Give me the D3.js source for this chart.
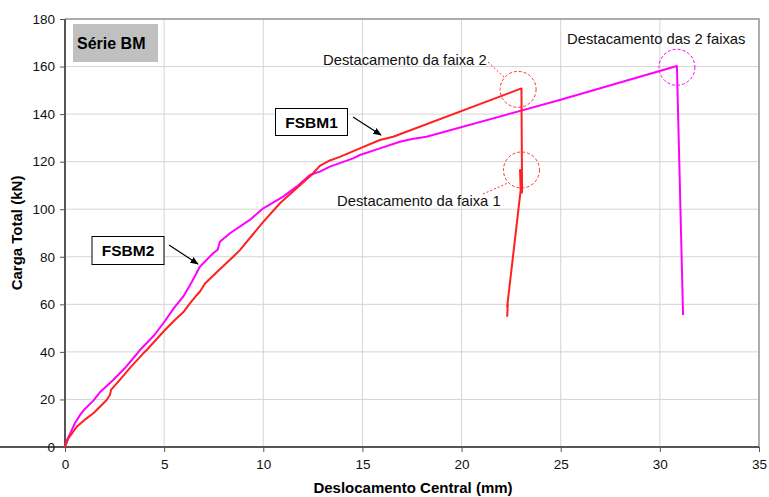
<!DOCTYPE html>
<html><head><meta charset="utf-8">
<script src="https://cdn.jsdelivr.net/npm/d3@7"></script>
<style>body{margin:0;background:#fff}svg{display:block}text{font-family:"Liberation Sans",Arial,sans-serif}</style>
</head><body>
<script>
const xTicks=[0,5,10,15,20,25,30,35];
const yTicks=[0,20,40,60,80,100,120,140,160,180];
const xTitle="Deslocamento Central (mm)";
const yTitle="Carga Total (kN)";
const seriesNames=["FSBM1","FSBM2"];
const fsbm1X=[0,0.17,0.59,1.0,1.43,2.1,2.27,2.32,2.69,3.3,3.95,4.12,5.04,5.54,6.0,6.3,6.6,6.8,7.06,7.65,8.48,8.82,10.0,10.84,11.68,12.43,12.85,13.36,13.86,14.87,15.88,16.55,23.02,23.05,22.95,22.98,22.3,22.33,22.3];
const fsbm1Y=[0,3.6,8.5,11.5,14.2,19.8,22.0,24.0,27.5,33.5,39.4,40.8,49.2,53.4,57,60.4,63.5,65.3,68.8,73.5,80,82.8,94.7,102.5,108.8,114.4,118.2,120.5,122,125.6,129.1,130.5,150.8,107,116.5,108,59,60,54.8];
const fsbm2X=[0,0.1,0.25,0.5,0.76,1.0,1.43,1.76,2.43,3.0,3.61,3.78,4.5,5.04,5.5,5.96,6.4,6.8,7.47,7.7,7.81,8.32,9.32,10.0,11.0,11.68,12.35,12.85,13.36,14.53,14.87,15.88,16.89,17.5,18.23,24.95,30.86,31.17];
const fsbm2Y=[0,3,5.5,10,13.5,16,19.5,23,28.2,33,39,40.8,47,53,58.5,63.2,69.5,75.8,81.5,83,86.3,89.9,95.5,100.4,105.3,109.5,114.4,115.8,117.9,121.4,122.8,125.6,128.4,129.5,130.5,145.9,160.2,55.5];

const W=769,H=497;
const svg=d3.select("body").append("svg").attr("width",W).attr("height",H);
const x=d3.scaleLinear().domain([0,35]).range([65,759]);
const y=d3.scaleLinear().domain([0,180]).range([447,19]);

svg.append("g").selectAll("line").data(yTicks.slice(1)).join("line")
 .attr("x1",x(0)).attr("x2",x(35)).attr("y1",d=>y(d)).attr("y2",d=>y(d))
 .attr("stroke","#d4d4d4").attr("stroke-width",1);
svg.append("g").selectAll("line").data(xTicks.slice(1)).join("line")
 .attr("y1",y(0)).attr("y2",y(180)).attr("x1",d=>x(d)).attr("x2",d=>x(d))
 .attr("stroke","#d4d4d4").attr("stroke-width",1);
svg.append("path").attr("d",`M${x(0)},${y(180)}H${x(35)}V${y(0)}`).attr("fill","none").attr("stroke","#999").attr("stroke-width",1.5);

const xAxis=svg.append("g").attr("transform",`translate(0,${y(0)})`)
 .call(d3.axisBottom(x).tickValues(xTicks).tickSize(5).tickPadding(7));
const yAxis=svg.append("g").attr("transform",`translate(${x(0)},0)`)
 .call(d3.axisLeft(y).tickValues(yTicks).tickSize(5).tickPadding(5));
[xAxis,yAxis].forEach(g=>{
 g.select(".domain").attr("stroke","#555").attr("stroke-width",2);
 g.selectAll(".tick line").attr("stroke","#555").attr("stroke-width",1);
 g.selectAll("text").attr("font-size",13.5).attr("fill","#111").attr("font-family","Liberation Sans, Arial, sans-serif");
});
yAxis.selectAll(".tick line").attr("x1",0);
yAxis.select(".domain").attr("d",`M0,${y(180)}V${y(0)}`);
xAxis.select(".domain").attr("d",`M0,0H${x(35)}`);

svg.append("text").attr("x",413).attr("y",493).attr("text-anchor","middle")
 .attr("font-size",15).attr("font-weight","bold").text(xTitle);
svg.append("text").attr("transform",`translate(22,233) rotate(-90)`).attr("text-anchor","middle")
 .attr("font-size",15).attr("font-weight","bold").text(yTitle);

const line=d3.line().x(d=>x(d[0])).y(d=>y(d[1]));
const d1=fsbm1X.map((v,i)=>[v,fsbm1Y[i]]);
const d2=fsbm2X.map((v,i)=>[v,fsbm2Y[i]]);
svg.append("path").datum(d2).attr("d",line).attr("fill","none").attr("stroke","#ff00ff").attr("stroke-width",2).attr("stroke-linejoin","round");
svg.append("path").datum(d1).attr("d",line).attr("fill","none").attr("stroke","#ff2020").attr("stroke-width",2).attr("stroke-linejoin","round");

svg.append("rect").attr("x",73).attr("y",24).attr("width",85).attr("height",38).attr("fill","#c0c0c0");
svg.append("text").attr("x",77).attr("y",49).attr("font-size",16).attr("font-weight","bold").text("Série BM");

function box(x0,y0,w,h,t){
 svg.append("rect").attr("x",x0).attr("y",y0).attr("width",w).attr("height",h).attr("fill","#fff").attr("stroke","#000").attr("stroke-width",1);
 svg.append("text").attr("x",x0+w/2).attr("y",y0+h/2+5.5).attr("text-anchor","middle").attr("font-size",15.5).attr("font-weight","bold").text(t);
}
box(275.5,108.5,72,27,seriesNames[0]);
box(92,236.5,72,28,seriesNames[1]);
const defs=svg.append("defs");
defs.append("marker").attr("id","ah").attr("viewBox","0 0 10 10").attr("refX",9).attr("refY",5)
 .attr("markerWidth",7).attr("markerHeight",7).attr("orient","auto")
 .append("path").attr("d","M0,1L10,5L0,9Z").attr("fill","#000");
function arrow(a,b,c,d){svg.append("line").attr("x1",a).attr("y1",b).attr("x2",c).attr("y2",d).attr("stroke","#000").attr("stroke-width",1.2).attr("marker-end","url(#ah)");}
arrow(353,117,381,135);
arrow(169,245,198,264);

function circ(cx,cy,col){svg.append("circle").attr("cx",x(cx)).attr("cy",y(cy)).attr("r",18).attr("fill","none").attr("stroke",col).attr("stroke-width",1).attr("stroke-dasharray","3,2");}
circ(22.85,150.4,"#ff3030");
circ(23.02,116.5,"#ff3030");
circ(30.86,159.7,"#ff00ff");
function lead(a,b,c,d,col){svg.append("line").attr("x1",a).attr("y1",b).attr("x2",c).attr("y2",d).attr("stroke",col).attr("stroke-width",1).attr("stroke-dasharray","2,2");}
lead(488,62,505,78,"#ff3030");
lead(483,194,508,183,"#ff3030");
svg.append("text").attr("x",323).attr("y",65).attr("font-size",14.8).attr("fill","#111").text("Destacamento da faixa 2");
svg.append("text").attr("x",337).attr("y",206).attr("font-size",14.8).attr("fill","#111").text("Destacamento da faixa 1");
svg.append("text").attr("x",567).attr("y",44).attr("font-size",14.8).attr("fill","#111").text("Destacamento das 2 faixas");
</script>
</body></html>
